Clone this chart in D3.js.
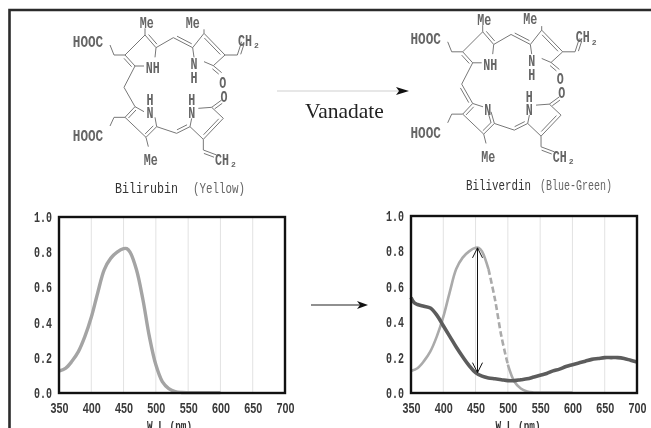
<!DOCTYPE html>
<html><head><meta charset="utf-8">
<style>html,body{margin:0;padding:0;background:#fff;overflow:hidden}svg{display:block;filter:blur(0.4px)}</style>
<script src="https://cdnjs.cloudflare.com/ajax/libs/d3/7.8.5/d3.min.js"></script>
</head><body><svg id="c" width="651" height="428"></svg>
<script>
// Spectra (wavelength nm, absorbance)
const xTicks=[350,400,450,500,550,600,650,700];
const yTicks=[0,0.2,0.4,0.6,0.8,1.0];
const bilirubinWL=[350,360,370,380,390,400,410,420,430,440,450,455,460,470,480,490,500,510,520,530,540,550,560,570,580,590,600];
const bilirubinAbs=[.125,.14,.18,.235,.32,.43,.57,.70,.765,.80,.82,.82,.80,.70,.53,.32,.16,.065,.025,.008,.003,.002,.002,.002,.002,.002,.002];
const biliverdinWL=[350,355,360,370,380,390,400,410,420,430,440,450,460,470,480,490,500,510,520,530,540,550,560,570,580,590,600,610,620,630,640,650,660,670,680,690,700];
const biliverdinAbs=[.54,.51,.50,.49,.48,.44,.38,.32,.26,.205,.155,.115,.095,.085,.08,.075,.07,.07,.075,.08,.09,.10,.11,.125,.135,.15,.16,.17,.18,.19,.195,.2,.2,.2,.195,.185,.175];
const dropArrow=[{wl:453,a:.82},{wl:453,a:.115}];

// Molecule drawing units (1 unit = 1/3 px): [x1,y1,x2,y2,doubleOffsetSide]
const bondsShared=[
[435,85,435,105,0],[435,105,375,165,0],[435,105,468,143,-1],[468,143,465,172,0],[375,165,405,198,1],[405,198,432,198,0],
[468,143,520,113,0],[520,113,578,143,-1],[578,143,612,100,0],[612,100,675,165,1],[612,88,612,100,0],[578,143,582,172,0],
[612,185,640,197,0],[675,165,640,197,0],[640,197,665,218,1],[675,165,712,165,0],[712,165,725,125,1],
[375,165,342,165,0],[342,165,330,135,0],
[375,352,342,352,0],[342,352,330,378,0],[405,320,375,352,-1],[375,352,438,412,0],[438,412,470,380,-1],
[438,412,445,440,0],[470,380,530,400,0],[530,400,570,380,-1],[570,380,610,418,0],[610,418,670,355,-1],[670,355,635,322,0],
[635,322,595,325,0],[570,380,575,355,0],[635,322,665,300,1],[610,418,610,450,0],[610,450,650,465,1]];
const bondsBilirubin=[[405,198,372,262,0],[372,262,405,320,0],[470,380,465,352,0],[405,320,432,335,0]];
const bondsBiliverdin=[[405,198,372,262,0],[372,262,405,320,1],[470,380,460,345,-1],[405,320,436,330,0]];
const atomsShared=[["Me",440,68],["Me",578,66],["HOOC",264,125],["CH",735,120],["N",582,190],["H",582,232],
["O",668,246],["O",672,288],["N",575,338],["H",575,298],["HOOC",264,406],["Me",452,478],["CH",666,478]];
const labelsLeft=[["NH",458,202],["H",450,298],["N",450,338]];
const labelsRight=[["NH",458,202],["N",450,338]];

const svg=d3.select("#c");
const ink="#777";
// page frame
svg.append("path").attr("d",d3.line()([[9.5,428],[9.5,10],[651,10]])).attr("fill","none").attr("stroke","#2b2b2b").attr("stroke-width",2.6);

function molecule(dx,dy,bonds,extra){
  const sx=d3.scaleLinear().domain([0,3]).range([dx,dx+1]);
  const sy=d3.scaleLinear().domain([0,3]).range([dy,dy+1]);
  const g=svg.append("g");
  bonds.forEach(b=>{
    g.append("line").attr("x1",sx(b[0])).attr("y1",sy(b[1])).attr("x2",sx(b[2])).attr("y2",sy(b[3])).attr("stroke",ink).attr("stroke-width",1);
    if(b[4]){
      const ux=b[2]-b[0],uy=b[3]-b[1],L=Math.hypot(ux,uy),o=9*b[4];
      const nx=-uy/L*o,ny=ux/L*o;
      g.append("line").attr("x1",sx(b[0]+nx+ux*.12)).attr("y1",sy(b[1]+ny+uy*.12)).attr("x2",sx(b[2]+nx-ux*.12)).attr("y2",sy(b[3]+ny-uy*.12)).attr("stroke",ink).attr("stroke-width",1);
    }
  });
  atomsShared.concat(extra).forEach(a=>{
    g.append("text").attr("x",sx(a[1])).attr("y",sy(a[2])+5.5).attr("text-anchor","middle")
      .attr("font-family","'Liberation Mono',monospace").attr("font-weight","bold").attr("font-size",16).attr("fill","#666")
      .attr("textLength",a[0].length*(a[0].length>3?7.6:7)).attr("lengthAdjust","spacingAndGlyphs").text(a[0]);
    if(a[0]==="CH") g.append("text").attr("x",sx(a[1])+9).attr("y",sy(a[2])+8).attr("font-family","'Liberation Mono',monospace").attr("font-weight","bold").attr("font-size",8).attr("fill","#666").text("2");
  });
}
molecule(0,0,bondsShared.concat(bondsBilirubin),labelsLeft);
molecule(337.7,-3.2,bondsShared.concat(bondsBiliverdin),labelsRight);

function cap(x,y,len,txt,size,col){svg.append("text").attr("x",x).attr("y",y).attr("font-family","'Liberation Mono',monospace").attr("font-size",size).attr("fill",col).attr("textLength",len).attr("lengthAdjust","spacingAndGlyphs").text(txt);}
cap(115,193,63,"Bilirubin",14.5,"#333");
cap(193,193,52,"(Yellow)",14,"#666");
cap(466,190,65,"Biliverdin",14.5,"#333");
cap(540,190,72,"(Blue-Green)",14,"#666");
svg.append("text").attr("x",305).attr("y",118).attr("font-family","'Liberation Serif',serif").attr("font-size",21.5).attr("fill","#222").text("Vanadate");

function arrow(x1,x2,y,hl,col,sw){
  svg.append("line").attr("x1",x1).attr("x2",x2-4).attr("y1",y).attr("y2",y).attr("stroke",col).attr("stroke-width",sw);
  svg.append("path").attr("d",`M${x2-hl},${y-4}L${x2},${y}L${x2-hl},${y+4}L${x2-hl+3},${y}Z`).attr("fill","#111");
}
arrow(277,409,91,13,"#cfcfcf",1);
arrow(311,368,305,11,"#222",1.2);

function chart(x0,x1,yTop,yBot,labelX,draw){
  const x=d3.scaleLinear().domain([350,700]).range([x0,x1]);
  const y=d3.scaleLinear().domain([0,1]).range([yBot,yTop]);
  const g=svg.append("g");
  g.selectAll("line.g").data(xTicks.slice(1,-1)).join("line").attr("x1",x).attr("x2",x).attr("y1",yTop).attr("y2",yBot).attr("stroke","#e2e2e2").attr("stroke-width",1);
  draw(g,x,y);
  g.append("rect").attr("x",x0).attr("y",yTop).attr("width",x1-x0).attr("height",yBot-yTop).attr("fill","none").attr("stroke","#111").attr("stroke-width",2.4);
  const ax=g.append("g").attr("transform",`translate(0,${yBot})`).call(d3.axisBottom(x).tickValues(xTicks).tickSize(0).tickPadding(10).tickFormat(d3.format("d")));
  const ay=g.append("g").attr("transform",`translate(${x0},0)`).call(d3.axisLeft(y).tickValues(yTicks).tickSize(0).tickPadding(7).tickFormat(d3.format(".1f")));
  ax.select(".domain").remove();ay.select(".domain").remove();
  ax.selectAll("text").attr("font-family","'Liberation Sans',sans-serif").attr("font-size",14).attr("font-weight","bold").attr("fill","#3a3a3a").attr("textLength",18).attr("lengthAdjust","spacingAndGlyphs");
  ay.selectAll("text").attr("font-family","'Liberation Mono',monospace").attr("font-size",14).attr("font-weight","bold").attr("fill","#3a3a3a").attr("textLength",18).attr("lengthAdjust","spacingAndGlyphs");
  g.append("text").attr("x",labelX).attr("y",430).attr("text-anchor","middle").attr("font-family","'Liberation Mono',monospace").attr("font-weight","bold").attr("font-size",12).attr("fill","#333").attr("textLength",45).attr("lengthAdjust","spacingAndGlyphs").text("W L (nm)");
}
const zip=(a,b)=>a.map((w,i)=>({wl:w,a:b[i]}));
const bili=zip(bilirubinWL,bilirubinAbs), verd=zip(biliverdinWL,biliverdinAbs);
function path(g,x,y,data,col,w,dash){
  const ln=d3.line().x(d=>x(d.wl)).y(d=>y(d.a)).curve(d3.curveCatmullRom.alpha(0.5));
  const p=g.append("path").attr("d",ln(data)).attr("fill","none").attr("stroke",col).attr("stroke-width",w);
  if(dash)p.attr("stroke-dasharray",dash);
}
chart(59,285,217,393,169.5,(g,x,y)=>{ path(g,x,y,bili,"#a4a4a4",3.4); });
chart(411,637,216,393,518,(g,x,y)=>{
  path(g,x,y,bili.filter(d=>d.wl<=470),"#aaaaaa",2.6);
  path(g,x,y,bili.filter(d=>d.wl>=470&&d.wl<=500),"#aaaaaa",2.6,"6 3");
  path(g,x,y,bili.filter(d=>d.wl>=500),"#aaaaaa",2.6);
  path(g,x,y,verd,"#5c5c5c",3.6);
  const [a,b]=dropArrow, X=x(a.wl), Y1=y(a.a), Y2=y(b.a);
  g.append("line").attr("x1",X).attr("x2",X).attr("y1",Y1).attr("y2",Y2).attr("stroke","#111").attr("stroke-width",1);
  g.append("path").attr("d",`M${X-5},${Y1+10}L${X},${Y1}L${X+5},${Y1+10}M${X-5},${Y2-10}L${X},${Y2}L${X+5},${Y2-10}`).attr("fill","none").attr("stroke","#111").attr("stroke-width",1);
});
</script></body></html>
